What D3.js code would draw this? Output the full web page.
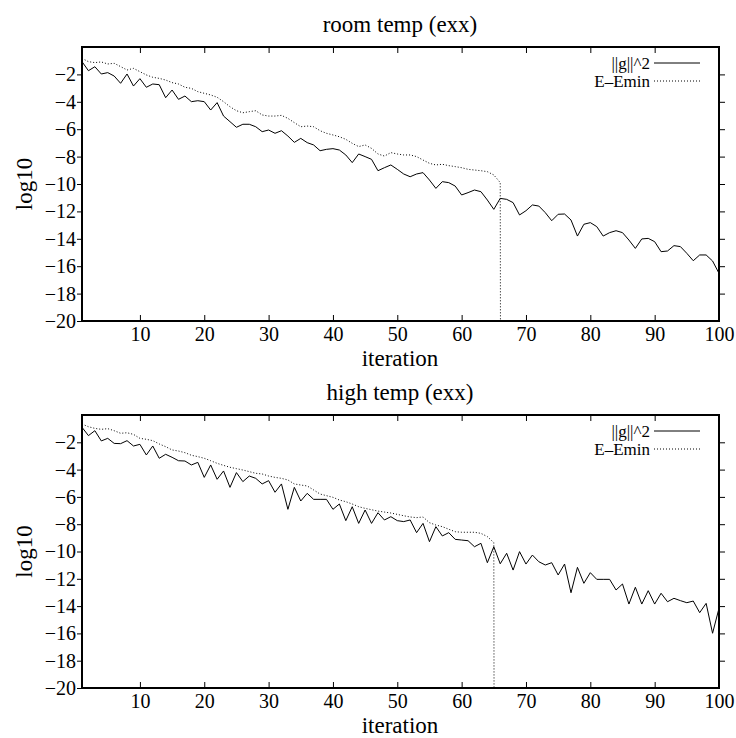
<!DOCTYPE html>
<html>
<head>
<meta charset="utf-8">
<script src="https://cdnjs.cloudflare.com/ajax/libs/d3/7.8.5/d3.min.js"></script>
<style>
  body { margin: 0; background: #fff; }
  text { font-family: "Liberation Serif", "Times New Roman", serif; fill: #000; }
</style>
</head>
<body>
<div class="chartDiv"></div>
<script>
// convergence of ||g||^2 and E-Emin (log10) per iteration

let yTicks = [-2, -4, -6, -8, -10, -12, -14, -16, -18, -20];
let xTicks = [10, 20, 30, 40, 50, 60, 70, 80, 90, 100];
let seriesNames = ['||g||^2', 'E\u2013Emin'];

let roomGrad = [
  -1.07, -1.73, -1.44, -1.97, -1.87, -2.12, -2.65, -1.97, -2.85, -2.31,
  -2.94, -2.70, -2.75, -3.70, -3.14, -3.82, -3.58, -3.99, -3.92, -3.99,
  -4.60, -4.06, -5.04, -5.45, -5.86, -5.64, -5.64, -5.82, -6.18, -6.06,
  -6.30, -6.11, -6.50, -6.96, -6.67, -6.98, -7.15, -7.57, -7.47, -7.42,
  -7.52, -7.88, -8.44, -7.81, -8.00, -8.20, -9.03, -8.81, -8.61, -8.93,
  -9.27, -9.47, -9.27, -9.17, -9.71, -10.32, -9.83, -9.90, -10.15, -10.80,
  -10.63, -10.44, -10.56, -11.17, -11.85, -11.05, -11.12, -11.36, -12.26, -11.95,
  -11.53, -11.61, -12.09, -12.68, -12.21, -12.19, -12.63, -13.80, -12.94, -12.82,
  -13.11, -13.80, -13.55, -13.41, -13.55, -14.09, -14.70, -14.01, -13.97, -14.21,
  -14.94, -14.89, -14.50, -14.57, -15.06, -15.60, -15.18, -15.18, -15.62, -16.52
];

// last entry: E-Emin hits zero, log10 goes off the bottom
let roomEnergy = [
  -0.83, -1.07, -1.14, -1.09, -1.24, -1.19, -1.43, -1.68, -1.56, -1.80,
  -2.04, -2.21, -2.29, -2.41, -2.60, -2.70, -2.94, -3.02, -3.26, -3.38,
  -3.50, -3.67, -3.99, -4.36, -4.65, -4.80, -4.72, -4.65, -4.96, -5.04,
  -5.04, -4.99, -5.21, -5.52, -5.82, -5.77, -5.82, -6.11, -6.30, -6.42,
  -6.55, -6.74, -7.03, -7.27, -7.15, -7.40, -7.81, -7.96, -7.71, -7.81,
  -7.88, -7.88, -8.00, -8.25, -8.49, -8.61, -8.56, -8.66, -8.73, -8.81,
  -8.93, -8.98, -9.03, -9.10, -9.34, -9.90, -300
];

let highGrad = [
  -0.90, -1.51, -1.15, -1.90, -1.71, -2.08, -2.10, -1.88, -2.27, -2.15,
  -2.93, -2.27, -3.17, -2.88, -3.10, -3.35, -3.37, -3.66, -3.47, -4.57,
  -3.66, -4.71, -4.10, -5.30, -4.22, -4.88, -4.47, -4.64, -5.05, -4.81,
  -5.66, -5.05, -6.91, -5.30, -6.30, -5.74, -6.18, -6.18, -6.18, -6.91,
  -6.52, -7.74, -6.72, -7.94, -6.96, -7.94, -7.16, -7.69, -7.45, -7.74,
  -7.81, -7.69, -8.62, -7.94, -9.28, -8.18, -8.86, -8.62, -9.11, -9.16,
  -9.21, -9.65, -9.40, -10.82, -9.65, -10.90, -10.13, -11.36, -10.01, -10.92,
  -10.26, -10.75, -10.99, -10.82, -11.72, -10.92, -13.02, -11.16, -12.33, -11.55,
  -12.04, -12.04, -12.04, -12.82, -12.38, -13.85, -12.62, -13.85, -12.87, -13.85,
  -13.06, -13.68, -13.43, -13.60, -13.75, -13.63, -14.48, -13.80, -15.99, -14.16
];

let highEnergy = [
  -0.66, -0.86, -0.98, -1.05, -1.00, -1.15, -1.34, -1.30, -1.42, -1.71,
  -1.78, -1.88, -2.12, -2.32, -2.56, -2.64, -2.76, -2.95, -3.05, -3.17,
  -3.35, -3.54, -3.69, -3.83, -3.93, -4.03, -4.15, -4.27, -4.32, -4.47,
  -4.57, -4.64, -4.76, -5.05, -5.13, -5.20, -5.49, -5.79, -5.91, -6.03,
  -6.23, -6.35, -6.52, -6.72, -6.84, -6.94, -7.04, -7.11, -7.18, -7.28,
  -7.38, -7.47, -7.52, -7.47, -7.89, -8.06, -8.18, -8.37, -8.55, -8.59,
  -8.59, -8.59, -8.67, -8.91, -9.35, -300
];

let svgWidth = 736;
let svgHeight = 738;
let serif = '"Liberation Serif", "Times New Roman", serif';

let svg = d3.select('.chartDiv')
            .append('svg')
            .attr('width', svgWidth)
            .attr('height', svgHeight)
            .attr('font-family', serif);

let drawPanel = (panel, idx) => {

  let xScale = d3.scaleLinear()
                 .domain([1, 100])
                 .range([82, 719]);

  let yScale = d3.scaleLinear()
                 .domain([-20, 0])
                 .range([panel.bottom, panel.top]);

  let g = svg.append('g');

  // title
  g.append('text')
   .attr('x', 400)
   .attr('y', panel.top - 15)
   .attr('text-anchor', 'middle')
   .style('font-size', '23px')
   .text(panel.title);

  let clipId = 'clip' + idx;
  g.append('clipPath')
   .attr('id', clipId)
   .append('rect')
   .attr('x', 82)
   .attr('y', panel.top)
   .attr('width', 719 - 82)
   .attr('height', panel.bottom - panel.top);

  // axes: left ticks outward, others inward like gnuplot
  let leftAxis = d3.axisLeft(yScale).tickValues(yTicks).tickSize(5).tickPadding(1)
                   .tickFormat(d => d3.format('d')(d).replace('-', '\u2212'));
  let rightAxis = d3.axisLeft(yScale).tickValues(yTicks.slice(0, -1)).tickSize(-6).tickFormat('');
  let bottomAxis = d3.axisBottom(xScale).tickValues(xTicks).tickSize(-6).tickPadding(6);
  let topAxis = d3.axisTop(xScale).tickValues(xTicks.slice(0, -1)).tickSize(-6).tickFormat('');

  let ax1 = g.append('g')
             .attr('transform', 'translate(82,0)')
             .call(leftAxis);
  let ax2 = g.append('g')
             .attr('transform', 'translate(719,0)')
             .call(rightAxis);
  let ax3 = g.append('g')
             .attr('transform', `translate(0, ${panel.bottom})`)
             .call(bottomAxis);
  let ax4 = g.append('g')
             .attr('transform', `translate(0, ${panel.top})`)
             .call(topAxis);

  [ax1, ax2, ax3, ax4].forEach(a => {
    a.attr('font-family', serif).attr('font-size', 20);
    a.select('.domain').remove();
    a.selectAll('line').attr('stroke', '#000').attr('stroke-width', 1);
    a.selectAll('text')
     .attr('font-family', serif)
     .style('font-family', serif)
     .style('font-size', '20px')
     .attr('fill', '#000');
  });

  // frame
  g.append('rect')
   .attr('x', 82)
   .attr('y', panel.top)
   .attr('width', 719 - 82)
   .attr('height', panel.bottom - panel.top)
   .attr('fill', 'none')
   .attr('stroke', '#000')
   .attr('stroke-width', 2);

  // axis labels
  g.append('text')
   .attr('x', 400)
   .attr('y', panel.bottom + 45)
   .attr('text-anchor', 'middle')
   .style('font-size', '23px')
   .text('iteration');

  g.append('text')
   .attr('transform', `translate(32, ${(panel.top + panel.bottom) / 2}) rotate(-90)`)
   .attr('text-anchor', 'middle')
   .style('font-size', '23px')
   .text('log10');

  let line = d3.line()
               .x((d, i) => xScale(i + 1))
               .y(d => yScale(d));

  let plot = g.append('g').attr('clip-path', `url(#${clipId})`);

  plot.append('path')
      .datum(panel.grad)
      .attr('d', line)
      .attr('fill', 'none')
      .attr('stroke', '#000')
      .attr('stroke-width', 1);

  plot.append('path')
      .datum(panel.energy)
      .attr('d', line)
      .attr('fill', 'none')
      .attr('stroke', '#000')
      .attr('stroke-width', 1)
      .attr('stroke-dasharray', '1,2');

  // legend
  let legend = g.append('g');
  seriesNames.forEach((name, k) => {
    let ly = panel.top + 16 + k * 18;
    legend.append('text')
          .attr('x', 650)
          .attr('y', ly)
          .attr('dy', '0.33em')
          .attr('text-anchor', 'end')
          .style('font-size', '17px')
          .text(name);
    legend.append('line')
          .attr('x1', 654)
          .attr('x2', 700)
          .attr('y1', ly)
          .attr('y2', ly)
          .attr('stroke', '#000')
          .attr('stroke-width', 1)
          .attr('stroke-dasharray', k === 1 ? '1,2' : null);
  });
};

let panels = [
  { title: 'room temp (exx)', top: 47, bottom: 321, grad: roomGrad, energy: roomEnergy },
  { title: 'high temp (exx)', top: 415, bottom: 688, grad: highGrad, energy: highEnergy }
];

panels.forEach(drawPanel);
</script>
</body>
</html>
